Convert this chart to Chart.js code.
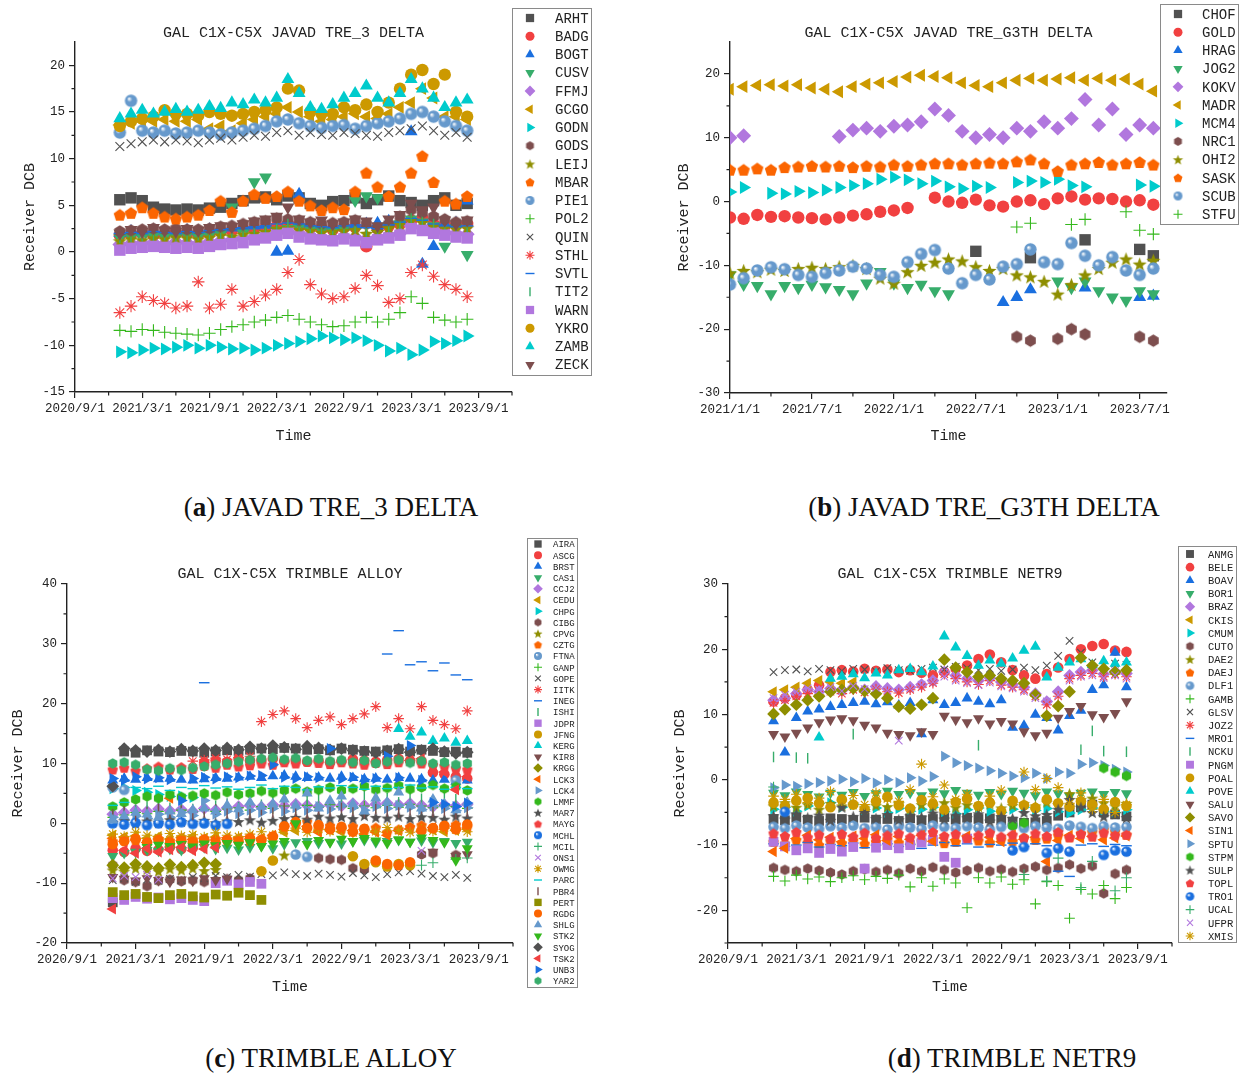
<!DOCTYPE html>
<html>
<head>
<meta charset="utf-8">
<script src="https://cdn.jsdelivr.net/npm/chart.js@4.4.1/dist/chart.umd.min.js"></script>
<style>
body { margin: 0; background: #fff; width: 1245px; height: 1077px; position: relative; overflow: hidden; }
canvas { position: absolute; }
.cap { position: absolute; transform: translate(-50%, -50%); white-space: nowrap;
       font-family: "Liberation Serif", serif; font-size: 27px; color: #111; }
</style>
</head>
<body>
<canvas id="cA" width="620" height="460" style="left:0;top:0"></canvas>
<canvas id="cB" width="625" height="460" style="left:620px;top:0"></canvas>
<canvas id="cC" width="600" height="480" style="left:0;top:530px"></canvas>
<canvas id="cD" width="625" height="480" style="left:620px;top:530px"></canvas>
<div class="cap" style="left:331px;top:507px">(<b>a</b>) JAVAD TRE_3 DELTA</div>
<div class="cap" style="left:984px;top:507px">(<b>b</b>) JAVAD TRE_G3TH DELTA</div>
<div class="cap" style="left:331px;top:1058px">(<b>c</b>) TRIMBLE ALLOY</div>
<div class="cap" style="left:1012px;top:1058px">(<b>d</b>) TRIMBLE NETR9</div>
<script>
const _ = null;
// months since 2020/9/1, one sample per month
const months = [4,5,6,7,8,9,10,11,12,13,14,15,16,17,18,19,20,21,22,23,24,25,26,27,28,29,30,31,32,33,34,35];

const xTicks = [0,6,12,18,24,30,36];
const xLabels = ['2020/9/1','2021/3/1','2021/9/1','2022/3/1','2022/9/1','2023/3/1','2023/9/1'];
const xMinor = [3,9,15,21,27,33,39];
const xTicksB = [4,10,16,22,28,34];
const xLabelsB = ['2021/1/1','2021/7/1','2022/1/1','2022/7/1','2023/1/1','2023/7/1'];
const xMinorB = [7,13,19,25,31];

const yTicksA = [-15,-10,-5,0,5,10,15,20];
const yMinorA = [-12.5,-7.5,-2.5,2.5,7.5,12.5,17.5];
const yTicksB = [-30,-20,-10,0,10,20];
const yMinorB = [-25,-15,-5,5,15];
const yTicksC = [-20,-10,0,10,20,30,40];
const yMinorC = [-15,-5,5,15,25,35];
const yTicksD = [-20,-10,0,10,20,30];
const yMinorD = [-25,-15,-5,5,15,25];

// ---- (a) JAVAD TRE_3 DELTA ----
const namesA = ['ARHT','BADG','BOGT','CUSV','FFMJ','GCGO','GODN','GODS','LEIJ','MBAR','PIE1','POL2','QUIN','STHL','SVTL','TIT2','WARN','YKRO','ZAMB','ZECK'];
const a_ARHT = [5.6,5.8,5.5,4.8,4.6,4.5,4.6,4.5,4.7,4.8,5.2,5.5,5.8,5.9,5.6,6.0,5.8,5.2,5.0,5.4,5.5,5.8,5.2,5.6,6.0,5.5,5.3,5.0,5.5,5.8,5.0,5.2];
const a_BADG = [1.8,1.9,2.0,1.8,1.9,2.1,2.0,1.9,2.0,2.2,2.3,2.4,2.5,2.6,2.8,3.0,2.8,2.6,2.5,2.4,2.6,2.7,0.6,2.5,2.8,3.0,3.4,3.6,3.0,2.8,2.9,3.0];
const a_BOGT = [2.0,2.2,2.1,2.3,2.2,2.1,2.3,2.2,2.4,2.5,2.6,2.7,2.8,2.9,0.0,0.1,6.2,3.0,2.9,2.8,2.7,2.9,3.0,3.1,3.3,3.4,12.9,-1.3,0.6,3.0,3.1,5.5];
const a_CUSV = [1.5,1.6,1.5,1.7,1.6,1.5,1.8,1.6,1.7,1.9,4.8,2.0,7.5,8.0,2.3,2.5,2.6,2.4,2.3,2.2,2.5,5.5,6.0,5.8,2.8,3.0,3.5,3.2,2.8,0.6,2.6,-0.3];
const a_FFMJ = [0.8,0.9,1.0,1.0,0.9,1.1,1.0,0.9,1.1,1.2,1.3,1.5,1.6,1.8,2.0,2.2,2.0,1.8,1.6,1.5,1.7,1.6,1.4,1.6,1.8,2.0,2.8,2.6,2.3,2.1,2.0,1.9];
const a_GCGO = [13.6,13.8,14.0,14.0,14.2,14.0,14.0,14.2,13.2,13.5,13.0,13.8,14.2,14.5,14.8,15.5,15.0,14.5,14.0,14.2,14.5,14.8,14.5,14.3,14.8,15.5,16.0,17.5,16.5,14.5,14.5,14.2];
const a_GODN = [-10.7,-10.8,-10.5,-10.3,-10.4,-10.2,-10.0,-10.3,-10.0,-10.2,-10.4,-10.3,-10.5,-10.3,-10.0,-9.8,-9.6,-9.3,-9.0,-9.2,-9.4,-9.2,-9.5,-10.0,-10.6,-10.3,-11.0,-10.5,-9.6,-9.8,-9.5,-9.0];
const a_GODS = [2.2,2.3,2.4,2.5,2.4,2.5,2.4,2.4,2.5,2.7,2.8,3.0,3.2,3.3,3.6,3.5,3.4,3.2,3.0,3.1,3.2,3.4,3.0,2.5,3.0,3.8,4.5,4.2,3.8,3.5,3.2,3.3];
const a_LEIJ = [1.2,1.4,1.3,1.5,1.4,1.6,1.5,1.4,1.6,1.8,1.7,1.9,2.0,2.2,2.5,2.6,2.4,2.3,2.1,2.2,2.3,2.4,2.0,2.2,2.6,3.0,3.4,3.2,2.8,2.6,2.5,2.6];
const a_MBAR = [4.0,4.2,4.8,4.2,3.8,3.6,3.8,4.0,4.5,5.5,4.3,5.5,6.2,5.8,6.0,6.5,5.5,5.0,4.5,4.8,4.6,6.5,8.5,7.0,6.0,7.0,8.5,10.3,7.5,5.5,5.2,6.0];
const a_PIE1 = [12.8,16.2,13.0,12.8,13.0,12.7,12.8,13.0,12.8,12.6,12.8,13.0,13.2,13.5,14.0,14.2,13.8,13.5,13.3,13.5,13.6,13.2,13.5,13.8,14.0,14.3,14.8,15.0,14.5,14.0,13.5,13.0];
const a_POL2 = [-8.4,-8.5,-8.3,-8.4,-8.6,-8.7,-8.8,-8.9,-8.7,-8.3,-8.0,-7.8,-7.5,-7.3,-7.0,-6.8,-7.2,-7.5,-7.8,-8.0,-7.9,-7.5,-7.0,-7.5,-7.2,-6.5,-4.8,-5.5,-7.0,-7.3,-7.5,-7.2];
const a_QUIN = [11.3,11.6,11.8,12.0,11.8,12.0,11.9,11.7,12.0,12.2,12.0,12.3,12.5,12.4,12.8,13.0,12.5,12.8,12.6,12.5,12.8,12.7,12.5,12.4,12.8,13.0,13.2,13.5,13.0,12.5,12.8,12.3];
const a_STHL = [-6.5,-5.8,-4.8,-5.2,-5.5,-6.0,-5.8,-3.2,-6.0,-5.6,-4.0,-5.8,-5.3,-4.6,-4.0,-2.2,-0.8,-3.5,-4.5,-5.0,-4.8,-3.9,-2.5,-3.6,-5.4,-5.0,-2.2,-1.4,-2.6,-3.5,-4.0,-4.8];
const a_SVTL = [2.0,2.1,2.0,2.2,2.1,2.0,2.2,2.1,2.3,2.4,2.5,2.6,2.7,2.8,3.0,3.1,3.0,2.8,2.7,2.6,2.8,2.9,2.6,2.5,2.9,3.2,3.6,3.4,3.0,2.8,2.7,2.8];
const a_TIT2 = [1.6,1.7,1.8,1.7,1.9,1.8,1.7,1.9,2.0,2.1,2.2,2.3,2.5,2.6,2.8,2.9,2.7,2.6,2.4,2.5,2.6,2.7,2.3,2.4,2.7,3.1,3.5,3.3,2.9,2.7,2.6,2.7];
const a_WARN = [0.2,0.4,0.5,0.6,0.5,0.4,0.5,0.4,0.6,0.8,0.9,1.0,1.3,1.5,1.8,2.0,1.6,1.4,1.3,1.2,1.4,1.2,1.0,1.3,1.5,1.8,2.5,2.3,2.0,1.8,1.6,1.5];
const a_YKRO = [13.5,14.0,14.3,14.5,15.2,14.8,14.8,14.6,15.0,14.8,14.6,14.8,15.0,15.2,15.5,17.5,17.3,15.0,14.8,14.8,15.5,15.2,15.8,15.0,16.0,17.5,19.0,19.5,18.0,19.0,15.0,14.5];
const a_ZAMB = [14.3,14.8,15.2,14.8,15.0,15.3,15.0,15.2,15.6,15.4,16.0,15.8,16.3,16.0,16.5,18.5,17.0,15.5,15.3,15.8,16.5,17.0,17.8,16.5,16.0,17.0,18.5,17.5,16.5,15.5,16.0,16.3];
const a_ZECK = [2.0,2.4,2.2,2.6,2.3,2.2,2.5,2.3,2.6,2.8,2.7,3.0,3.3,3.5,3.8,4.8,3.5,3.2,3.4,3.0,3.2,3.5,3.3,2.8,3.5,4.0,5.2,4.5,4.8,3.4,3.0,3.4];

// ---- (b) JAVAD TRE_G3TH DELTA ----
const namesB = ['CHOF','GOLD','HRAG','JOG2','KOKV','MADR','MCM4','NRC1','OHI2','SASK','SCUB','STFU'];
const b_CHOF = [_,_,_,_,_,_,_,_,_,_,_,_,_,_,_,_,_,_,-7.8,_,_,_,-8.8,_,_,_,-6.0,_,_,_,-7.5,-8.5];
const b_GOLD = [-2.5,-2.7,-2.1,-2.4,-2.3,-2.5,-2.6,-2.8,-2.5,-2.2,-2.0,-1.6,-1.4,-1.0,_,0.6,0.0,-0.2,0.3,-0.6,-0.8,0.0,0.2,-0.4,0.5,0.8,0.3,0.5,0.4,0.0,0.2,-0.5];
const b_HRAG = [_,_,_,_,_,_,_,_,_,_,_,_,_,_,_,_,_,_,_,_,-15.8,-15.0,-13.8,_,_,_,-13.5,_,_,_,-15.0,-14.8];
const b_JOG2 = [-11.5,-13.0,-13.2,-14.5,-13.2,-13.5,-13.0,-13.4,-13.8,-14.5,-12.8,-11.0,-12.8,-13.5,-13.0,-14.0,-14.5,_,_,_,_,_,_,_,-12.5,-13.5,-12.5,-14.0,-15.0,-15.5,-14.0,-14.5];
const b_KOKV = [10.0,10.3,_,_,_,_,_,_,10.2,11.2,11.5,11.0,11.8,12.0,12.5,14.5,13.5,11.0,10.0,10.5,10.0,11.5,11.0,12.5,11.5,13.0,16.0,12.0,14.5,10.5,12.0,11.5];
const b_MADR = [17.6,18.0,18.2,18.3,18.1,18.3,17.8,17.6,17.2,18.0,18.4,18.6,18.8,19.5,19.8,19.6,19.4,18.6,18.2,18.0,18.6,19.0,19.3,19.0,19.2,19.4,19.0,19.3,19.0,19.2,18.4,17.3];
const b_MCM4 = [1.5,2.2,_,1.3,1.2,1.6,1.4,1.8,2.2,2.5,2.8,3.5,3.8,3.4,2.8,3.2,2.3,2.0,2.4,2.2,_,3.0,3.2,3.0,3.5,2.5,2.3,_,_,_,2.6,2.4];
const b_NRC1 = [_,_,_,_,_,_,_,_,_,_,_,_,_,_,_,_,_,_,_,_,_,-21.2,-21.8,_,-21.5,-20.0,-20.8,_,_,_,-21.2,-21.8];
const b_OHI2 = [-11.2,-10.8,-11.0,-10.6,-10.8,-10.5,-10.3,-10.5,-10.2,-10.0,-10.5,-12.0,-12.8,-11.0,-10.0,-9.5,-9.0,-9.3,-10.2,-10.8,-10.5,-11.5,-11.8,-12.5,-14.5,-13.0,-11.5,-10.5,-9.5,-9.0,-9.8,-9.2];
const b_SASK = [5.0,5.0,5.2,5.0,5.4,5.5,5.6,5.5,5.6,5.4,5.6,5.5,5.8,5.6,5.8,6.0,6.0,5.8,6.0,6.1,6.0,6.3,6.6,6.0,4.8,5.8,6.0,6.2,5.8,6.0,6.2,5.8];
const b_SCUB = [-13.0,-12.0,-10.8,-10.3,-10.6,-11.5,-11.8,-11.2,-10.8,-10.2,-10.5,-11.5,-11.8,-9.5,-8.2,-7.6,-10.5,-12.8,-11.5,-12.2,-10.2,-9.8,-7.5,-9.5,-9.8,-6.5,-8.5,-10.0,-8.7,-10.8,-11.5,-10.5];
const b_STFU = [_,_,_,_,_,_,_,_,_,_,_,_,_,_,_,_,_,_,_,_,_,-4.0,-3.4,_,_,-3.6,-2.8,_,_,-1.6,-4.5,-5.1];

// ---- (c) TRIMBLE ALLOY ----
const namesC = ['AIRA','ASCG','BRST','CAS1','CCJ2','CEDU','CHPG','CIBG','CPVG','CZTG','FTNA','GANP','GOPE','IITK','INEG','ISHI','JDPR','JFNG','KERG','KIR8','KRGG','LCK3','LCK4','LMMF','MAR7','MAYG','MCHL','MCIL','ONS1','OWMG','PARC','PBR4','PERT','RGDG','SHLG','STK2','SYOG','TSK2','UNB3','YAR2'];
const c_AIRA = [-13.2,12.0,11.8,12.2,12.0,11.9,12.1,12.0,11.8,12.0,12.2,12.1,12.3,12.5,12.4,12.6,12.5,12.3,12.4,12.2,12.5,12.3,12.1,12.0,12.2,12.4,12.0,12.3,12.1,11.9,12.0,11.8];
const c_ASCG = [-4.5,-4.8,-4.2,-4.6,-4.4,-4.0,-4.3,-4.1,10.2,10.5,10.3,10.8,10.5,10.6,10.8,10.4,10.6,10.3,10.5,10.2,10.4,10.7,10.5,10.3,10.6,10.8,10.5,10.4,8.5,8.2,7.8,7.5];
const c_BRST = [7.2,7.5,7.3,7.6,7.4,7.5,7.3,7.2,7.4,7.6,7.5,7.7,7.8,7.6,7.9,8.0,7.8,7.6,7.7,7.5,7.8,7.6,7.4,7.5,7.3,7.6,7.5,7.4,7.2,7.3,7.0,7.2];
const c_CAS1 = [-5.5,-5.0,-4.8,-4.5,-4.6,-4.3,-4.5,-4.2,-4.0,-4.3,-4.1,-4.4,-4.0,-3.8,-4.2,-3.5,-3.2,-3.0,-3.3,-3.1,-3.4,-3.0,-2.8,-3.2,-3.0,-2.8,-3.1,-2.9,-3.2,-3.0,-3.3,-3.1];
const c_CCJ2 = [1.5,1.8,2.2,2.0,2.4,2.1,2.3,2.0,2.5,2.2,2.6,2.8,3.0,2.7,3.1,2.9,3.2,3.0,2.8,3.1,2.9,3.3,3.0,3.2,3.4,3.1,3.3,3.0,2.8,3.1,2.9,3.2];
const c_CEDU = [-2.0,-2.3,-2.1,-2.5,-2.2,-2.6,-2.4,-2.2,-2.5,-2.3,-2.7,-2.4,-2.6,-2.8,-2.5,-1.5,-1.2,-1.0,-1.3,-1.1,-1.4,-1.2,-1.0,-1.3,-1.5,-1.2,-1.0,-1.3,-1.1,-1.4,-1.2,-1.0];
const c_CHPG = [5.8,6.0,5.5,5.2,4.8,4.5,4.6,4.3,_,_,_,_,_,_,_,_,_,_,_,_,_,_,_,_,_,_,_,_,_,_,_,_];
const c_CIBG = [-7.0,-9.5,-9.8,-10.5,-9.6,-9.4,-9.7,-9.5,-9.8,-9.6,-9.3,-9.5,-9.2,_,_,_,_,_,-5.8,-6.0,-6.1,-7.5,-7.7,_,_,_,_,-5.2,-5.0,_,-5.3,_];
const c_CPVG = [-7.8,-8.0,-7.5,-7.7,-8.0,-7.6,-7.8,-7.5,-7.9,-7.7,_,_,_,_,_,-5.3,_,_,_,_,_,_,_,_,_,_,_,_,_,_,_,_];
const c_CZTG = [-3.0,-2.5,-2.8,-3.2,-2.6,-2.9,-2.4,-2.7,-3.0,-2.6,-2.8,-2.5,-2.9,-2.6,-2.3,-0.5,-0.2,0.3,-0.8,-0.4,-0.9,-0.5,-1.2,-0.7,-1.5,-1.0,-0.6,-0.3,-0.8,-0.5,-0.2,-0.6];
const c_FTNA = [6.0,5.6,_,_,_,_,_,_,_,_,_,_,_,_,_,_,-5.2,-5.6,_,_,_,_,_,_,_,_,_,_,_,_,7.2,_];
const c_GANP = [1.0,1.4,1.8,1.6,2.0,1.7,2.2,1.9,2.3,2.0,2.4,2.6,2.2,2.8,2.5,2.9,2.6,3.0,2.7,3.1,2.8,2.5,2.9,2.6,3.0,2.7,3.2,2.9,2.6,3.0,2.8,2.5];
const c_GOPE = [-9.5,-9.2,-9.8,-9.4,-9.6,-9.3,-9.5,-9.0,-9.2,-8.8,-9.0,-8.6,-8.9,-8.5,-8.7,-8.2,-8.5,-8.8,-8.4,-8.6,-8.9,-8.3,-8.7,-9.0,-8.5,-8.2,-8.0,-8.4,-8.8,-9.0,-8.6,-9.1];
const c_IITK = [_,_,_,_,_,_,_,10.4,10.6,10.9,10.7,11.0,11.2,17.0,18.2,18.8,17.5,16.0,17.2,17.8,16.5,17.5,18.3,19.5,16.0,17.5,15.8,19.5,17.2,16.5,15.8,18.8];
const c_INEG = [_,_,_,_,_,_,_,_,23.5,_,_,_,_,_,_,_,_,_,_,_,_,_,_,_,28.3,32.2,26.5,27.0,25.5,26.8,24.8,24.0];
const c_ISHI = [2.5,3.0,2.2,2.8,3.2,2.6,3.0,2.4,3.5,2.9,3.3,2.7,4.0,3.1,3.6,4.2,3.0,3.8,4.5,3.4,4.0,3.2,4.8,3.6,4.2,3.5,5.0,4.1,3.8,4.6,4.0,3.5];
const c_JDPR = [-12.5,-12.8,-12.3,-12.6,-12.4,-12.7,-12.5,-12.8,-13.0,-10.0,-9.6,-10.2,-9.8,-10.1,_,_,_,_,_,_,_,_,_,_,_,_,_,_,_,_,_,_];
const c_JFNG = [_,_,_,_,_,_,_,_,_,_,_,_,_,-8.0,-6.2,_,_,_,_,_,_,-5.5,-6.8,-6.5,-7.2,-6.8,-7.0,_,_,_,_,_];
const c_KERG = [_,_,_,_,_,_,_,_,_,_,_,_,_,_,_,_,_,_,_,_,_,_,_,_,_,15.8,14.5,15.2,13.8,14.2,13.5,13.8];
const c_KIR8 = [-9.0,-9.3,-9.6,-9.2,-9.5,-9.8,-9.4,-9.6,-9.2,-9.5,-9.3,_,_,_,_,_,_,_,_,_,_,_,_,_,_,_,_,_,-4.8,_,-5.5,-5.2];
const c_KRGG = [-7.0,-7.4,-6.8,-7.2,-7.5,-6.9,-7.3,-7.0,-6.6,-6.8,_,_,_,_,_,_,_,_,_,_,_,_,_,_,_,_,_,_,_,_,_,_];
const c_LCK3 = [-2.5,-3.0,-2.8,-3.2,-2.6,4.2,-2.9,-2.7,-3.1,-2.8,-2.4,-2.6,-2.2,-2.5,-2.0,-1.0,0.0,-0.5,-1.5,-1.0,-0.8,-1.2,-1.8,-1.5,-2.0,-1.2,-0.9,-1.4,-0.7,-1.0,-0.5,-0.8];
const c_LCK4 = [1.0,0.5,1.2,0.8,1.5,1.0,1.8,1.3,3.8,1.5,2.0,1.6,2.2,1.8,2.5,2.0,2.6,2.2,2.8,2.4,3.0,2.6,2.2,2.8,2.5,3.0,2.7,2.3,2.9,2.5,2.1,2.6];
const c_LMMF = [2.8,3.5,4.0,4.5,4.2,4.8,4.4,4.6,5.0,4.7,5.2,4.8,5.0,5.4,5.1,5.5,5.8,5.3,5.6,6.0,5.5,5.8,6.2,5.6,5.9,6.3,5.7,6.0,6.4,5.8,6.1,5.5];
const c_MAR7 = [0.2,0.5,0.0,0.4,0.1,0.6,0.3,0.2,0.5,0.1,0.4,0.3,0.6,0.2,0.5,0.8,1.0,0.7,1.2,0.9,1.1,0.8,1.3,1.0,0.9,1.2,0.8,1.1,1.0,0.7,1.2,0.9];
const c_MAYG = [9.0,9.3,8.8,9.2,9.5,9.0,9.4,9.1,9.6,9.3,9.8,9.5,9.7,10.0,9.8,10.2,10.0,10.3,10.1,9.9,10.2,10.0,9.8,10.1,9.9,10.2,10.4,10.0,9.8,9.6,9.2,9.0];
const c_MCHL = [0.0,-0.2,0.1,-0.3,0.0,-0.2,0.2,-0.1,0.0,-0.3,-0.1,_,_,_,_,_,_,_,_,_,_,_,_,_,_,_,_,_,_,_,_,_];
const c_MCIL = [_,_,_,_,_,_,_,_,_,_,_,_,_,_,_,_,_,_,_,_,_,_,_,_,_,_,_,-7.0,-6.6,_,-6.0,-5.8];
const c_ONS1 = [-9.2,-8.8,-9.0,-8.6,-9.4,_,_,_,_,_,_,_,_,_,_,_,_,_,_,_,_,_,_,_,_,_,_,-4.6,_,_,_,_];
const c_OWMG = [-1.8,-2.2,-1.5,-2.0,-2.4,-1.7,-2.1,-1.9,-2.3,-1.6,-2.0,-2.2,-1.8,-1.4,-2.0,-1.2,-0.8,-1.5,-1.0,-1.3,-0.9,-1.6,-1.1,-1.4,-0.7,-1.2,-1.5,-1.0,-1.3,-0.8,-1.1,-1.4];
const c_PARC = [3.0,3.5,6.0,5.8,6.2,5.5,6.0,5.8,6.3,5.9,6.1,5.7,6.0,6.4,5.8,6.2,6.0,5.6,6.1,5.9,6.3,6.0,5.7,6.2,5.8,6.0,6.4,5.9,6.1,5.7,6.0,5.8];
const c_PBR4 = [1.5,2.0,1.2,1.8,2.4,1.6,2.1,1.4,1.9,2.3,1.7,2.0,1.5,2.2,1.8,2.5,2.0,1.6,2.3,1.9,2.6,2.1,1.7,2.4,2.0,1.8,2.2,2.5,1.9,2.1,1.6,2.0];
const c_PERT = [-11.5,-12.0,-11.8,-12.3,-12.5,-12.0,-11.8,-12.2,-12.4,-11.9,-12.1,-11.6,-12.0,-12.8,_,_,_,_,_,_,_,_,_,_,_,_,_,_,_,_,_,_];
const c_RGDG = [-3.5,-3.0,-2.6,-3.2,-2.8,-3.4,-2.9,-3.1,-2.7,-3.3,-2.8,-3.0,-2.5,-2.8,-2.2,-0.5,0.2,-0.8,-0.3,-1.0,-0.6,-1.4,-0.9,-6.2,-6.8,-7.0,-6.5,-1.2,-0.8,-0.4,-1.0,-0.2];
const c_SHLG = [0.5,1.2,1.8,1.5,1.0,2.0,1.6,2.2,2.5,2.0,3.0,2.4,3.5,2.8,3.2,4.0,3.0,5.0,2.5,3.8,4.5,3.2,2.0,4.2,3.5,5.2,3.0,2.5,4.0,3.2,2.2,3.5];
const c_STK2 = [_,_,_,-4.0,-3.6,-3.8,-3.5,-3.9,-3.4,-3.7,-3.3,-3.6,-3.2,-3.8,-3.4,-3.0,0.0,-3.5,-2.8,-3.2,-2.6,-3.0,-2.5,-2.9,-3.3,-2.7,-3.1,-2.4,-2.8,-3.2,-6.2,-4.2];
const c_SYOG = [6.2,12.5,12.2,12.0,12.3,12.0,12.4,12.1,12.5,12.2,12.6,12.3,12.8,12.5,13.0,12.7,12.4,12.9,12.6,12.3,12.5,12.2,12.0,11.8,12.1,12.4,11.9,12.2,12.5,12.0,11.7,11.9];
const c_TSK2 = [-14.3,-4.5,-5.0,-4.2,-4.8,-4.4,-4.0,-4.6,-4.3,-4.1,_,_,_,_,_,_,_,_,_,_,_,_,_,_,_,_,10.5,10.8,_,8.6,5.6,7.8];
const c_UNB3 = [7.5,7.2,7.8,7.4,7.6,7.3,3.8,7.5,7.7,7.4,7.8,7.6,7.9,8.0,9.8,7.7,7.5,7.8,7.6,12.5,7.4,7.7,7.3,7.5,11.2,7.6,13.0,7.2,3.5,3.2,2.8,3.4];
const c_YAR2 = [10.0,10.2,9.8,9.0,8.8,9.2,8.9,9.3,9.5,9.8,10.0,10.3,10.6,10.8,11.0,10.7,10.9,10.5,10.8,10.4,10.6,10.2,10.5,10.0,10.3,10.6,10.1,10.4,10.0,10.2,9.8,10.0];

// ---- (d) TRIMBLE NETR9 ----
const namesD = ['ANMG','BELE','BOAV','BOR1','BRAZ','CKIS','CMUM','CUTO','DAE2','DAEJ','DLF1','GAMB','GLSV','JOZ2','MRO1','NCKU','PNGM','POAL','POVE','SALU','SAVO','SIN1','SPTU','STPM','SULP','TOPL','TRO1','UCAL','UFPR','XMIS'];
const d_ANMG = [-6.0,-6.2,-5.8,-6.1,-6.3,-5.9,-6.0,-6.2,-5.8,-6.1,-6.0,-6.3,-5.9,-6.2,-6.0,-5.7,-6.1,-5.8,-6.0,-5.9,-6.2,-6.4,-6.6,-6.5,-6.3,-5.5,-5.0,-4.2,-3.8,-5.0,-5.3,-5.6];
const d_BELE = [12.0,12.5,13.0,13.8,14.5,16.5,16.8,16.6,17.0,16.7,16.9,16.5,16.8,16.4,16.0,16.5,17.0,17.5,18.5,19.2,18.0,16.8,16.0,15.5,16.2,17.2,18.5,20.0,20.5,20.8,19.8,19.6];
const d_BOAV = [9.0,4.2,9.5,10.5,10.8,11.2,11.5,11.8,12.0,11.6,11.9,11.4,11.8,7.0,12.2,11.5,11.8,12.5,12.0,11.6,12.2,8.0,8.3,10.0,9.5,7.6,9.8,10.6,13.8,14.5,19.5,14.2];
const d_BOR1 = [-2.0,-2.4,-1.8,-2.2,-2.6,-2.0,-2.3,-1.9,-2.5,-2.1,-1.7,-2.2,-2.0,-2.4,-1.8,-2.1,-1.6,-2.0,-2.3,-1.9,-2.2,-1.7,-2.0,-2.4,-1.8,-2.1,-2.5,-2.0,-1.8,-2.2,-1.9,-2.1];
const d_BRAZ = [12.2,12.5,13.2,13.8,13.5,14.0,13.7,14.2,13.8,14.3,14.0,13.8,14.2,14.6,15.2,16.5,16.0,15.5,15.2,15.6,15.0,14.6,14.2,13.2,12.0,13.5,16.0,16.5,16.8,16.2,16.6,16.3];
const d_CKIS = [13.5,13.8,14.2,14.8,15.2,15.0,14.8,15.0,_,_,_,_,_,_,_,_,_,_,_,_,_,_,_,_,_,_,_,_,_,_,_,_];
const d_CMUM = [-4.5,-4.2,-4.8,-4.0,-3.6,-3.5,-4.2,-3.8,-4.6,-4.3,-5.0,-4.4,-4.8,-4.5,-4.2,-4.9,-5.2,-4.6,-4.3,-4.8,-5.0,-4.5,-4.2,-4.7,-4.4,-4.9,-5.1,-4.6,-4.3,-4.8,-5.0,-4.6];
const d_CUTO = [-13.5,-13.8,-14.0,-13.6,-13.9,-14.2,-14.5,-14.0,-13.7,-14.1,-13.8,-14.3,-13.6,-14.0,-13.4,-13.8,-14.2,-13.9,-13.5,-14.0,-13.7,-14.1,-13.6,-13.3,-13.8,-13.5,-13.0,-13.6,-13.2,-17.4,-14.4,-13.8];
const d_DAE2 = [-4.0,-3.5,-4.2,-3.8,-4.5,-3.6,-4.0,-3.7,-4.3,-3.9,-4.1,-3.6,-4.4,-3.8,-4.0,-3.5,-4.2,-3.8,-4.1,-3.7,-4.3,-3.9,-3.6,-4.0,-3.4,-3.8,-2.1,-3.0,-2.8,-3.5,-4.0,-3.6];
const d_DAEJ = [-9.5,-9.8,-9.2,-9.6,-10.0,-9.4,-9.7,-9.3,-9.8,-9.5,-9.1,-9.6,-9.9,-9.4,-9.2,-9.7,-9.5,-9.0,-9.3,-9.6,-9.1,-9.4,-8.8,-9.2,-9.0,-8.5,-8.8,-8.2,-8.0,-7.6,-7.9,-8.4];
const d_DLF1 = [-7.2,-7.4,-7.0,-7.3,-7.5,-7.1,-7.3,-7.0,-7.4,-7.2,-7.6,-7.1,-7.3,-7.5,-7.0,-7.2,-7.4,-7.1,-7.3,-7.6,-7.2,-7.0,-7.4,-7.1,-7.3,-7.5,-7.0,-7.2,-7.4,-7.1,-7.3,-7.2];
const d_GAMB = [-14.8,-15.5,-14.6,-15.2,-14.9,-15.6,-15.0,-14.7,-15.3,-14.8,-15.1,-14.6,-16.4,-15.0,-16.3,-15.2,-15.8,-19.6,-15.0,-15.8,-14.9,-16.0,-15.3,-19.0,-15.6,-16.2,-21.2,-16.8,-17.5,-16.2,-18.2,-16.5];
const d_GLSV = [16.5,16.8,16.9,16.6,17.0,16.8,16.7,17.0,16.9,16.6,17.1,16.8,16.7,17.0,17.2,16.9,17.3,17.1,16.8,17.0,16.7,16.9,17.2,16.8,17.5,19.0,21.3,19.5,18.0,17.5,17.8,17.6];
const d_JOZ2 = [11.8,12.2,12.8,13.2,13.0,13.5,13.2,13.8,13.4,13.9,13.5,13.3,13.8,14.2,14.8,16.2,15.5,15.0,14.6,15.2,14.5,14.2,13.8,12.8,11.5,12.8,15.5,16.0,16.3,15.8,16.2,15.8];
const d_MRO1 = [-9.8,-10.2,-10.0,-9.6,-10.3,-9.9,-10.1,-9.7,-10.4,-10.0,-9.8,-10.2,-9.9,-10.5,-10.0,-9.6,-10.1,-9.8,-10.3,-9.9,-10.0,-9.7,-10.2,-9.8,-10.1,-14.0,-14.8,-10.0,-9.8,-10.2,-9.9,-10.1];
const d_NCKU = [3.5,_,3.4,3.3,_,_,_,7.0,_,_,_,_,_,_,_,_,_,_,5.3,_,_,_,_,_,_,_,_,4.6,7.5,4.4,_,4.3];
const d_PNGM = [-9.5,-10.2,-10.8,-10.5,-11.2,-10.6,-11.0,-10.3,-13.6,-10.4,-10.0,-10.5,-10.0,-9.6,-9.2,-11.8,-12.7,-9.0,_,_,_,_,_,_,_,_,_,_,_,_,_,_];
const d_POAL = [-3.5,-4.0,-3.2,-2.8,-3.6,-4.2,-3.0,-3.8,-4.5,-3.3,-2.6,-3.9,-4.4,-3.1,-3.7,-4.6,-3.4,-2.9,-4.0,-3.5,-4.8,-3.2,-3.9,-4.3,-3.0,-3.6,-4.1,-3.3,-3.8,-4.5,-3.4,-4.0];
const d_POVE = [_,_,_,_,6.5,15.5,15.8,16.2,15.6,16.3,16.0,16.8,17.0,16.5,17.4,22.0,20.3,19.0,17.5,18.3,17.8,18.6,19.8,20.4,15.7,17.2,18.0,18.5,17.6,18.2,17.8,18.0];
const d_SALU = [7.0,6.6,7.2,8.0,8.8,9.2,9.4,9.1,8.4,8.0,7.2,7.0,6.8,7.4,7.0,9.8,9.2,8.8,9.4,8.6,9.0,8.6,7.4,6.8,7.2,9.5,10.5,11.3,10.0,9.6,10.2,12.0];
const d_SAVO = [10.1,10.8,11.5,12.2,12.8,13.5,13.8,14.0,13.6,13.2,12.5,11.2,10.9,11.5,12.5,18.4,17.2,16.5,15.8,16.0,15.5,15.2,14.8,13.0,9.8,11.3,13.5,18.7,17.5,17.0,16.5,16.8];
const d_SIN1 = [-11.0,-10.5,-9.0,-8.5,-9.2,-8.8,-9.5,-8.6,-9.0,-8.4,-9.3,-8.7,-9.1,-8.5,-9.4,-8.9,-9.2,-8.6,-9.0,-8.8,-9.5,-8.4,-9.1,-8.8,-12.5,-9.3,-8.5,-9.0,-8.7,-9.2,-8.9,-8.6];
const d_SPTU = [-1.2,-0.8,-1.0,-0.6,-0.4,-0.2,0.1,-0.3,0.2,-0.5,0.0,-0.4,0.3,-0.2,0.5,3.6,2.6,2.2,1.8,1.4,1.0,0.6,0.3,1.0,0.2,1.2,1.0,2.4,2.6,2.2,1.6,1.2];
const d_STPM = [_,_,_,_,_,_,_,_,_,_,_,_,_,_,_,_,_,_,_,_,_,-7.0,-6.6,_,_,_,_,_,_,1.8,1.2,0.6];
const d_SULP = [-5.5,-6.0,-5.2,-5.8,-5.4,-6.2,-4.2,-5.6,-5.0,-5.9,-5.3,-6.1,-5.5,-5.7,-5.1,-6.0,-5.4,-5.8,-5.2,-6.3,-5.6,-5.9,-5.0,-5.5,-5.3,-4.5,-3.0,-4.2,-5.0,-5.6,-5.2,-5.8];
const d_TOPL = [-8.2,-8.6,-8.0,-8.8,-8.4,-9.0,-8.3,-8.7,-8.1,-8.9,-8.5,-8.2,-8.8,-8.4,-8.0,-8.6,-8.3,-8.9,-8.5,-8.1,-8.7,-8.4,-8.9,-8.2,-8.6,-8.0,-8.8,-8.3,-8.7,-8.1,-8.5,-8.4];
const d_TRO1 = [_,-4.9,_,_,_,_,_,_,_,_,_,_,_,_,_,_,_,_,_,_,_,-10.8,-10.3,_,-11.2,-10.5,-11.0,_,_,-11.5,-10.8,-11.0];
const d_UCAL = [-1.1,_,_,_,_,_,_,_,_,_,_,_,_,_,_,_,_,_,_,_,_,_,-14.5,_,-15.5,-12.0,_,-16.5,-12.5,_,-17.0,-15.0];
const d_UFPR = [12.5,13.0,13.5,14.0,13.8,14.2,13.6,14.4,13.9,14.1,13.7,6.0,14.0,14.6,15.0,15.8,15.2,14.8,14.5,14.9,14.3,14.0,13.5,12.5,12.0,13.0,15.2,15.8,16.0,15.6,16.0,15.5];
const d_XMIS = [-2.5,-3.0,-2.2,-3.5,-2.8,-1.8,-3.2,-2.4,-3.8,-2.0,-2.9,-3.3,-1.5,2.4,-2.6,-0.8,-3.0,-2.2,-4.0,-2.5,-1.6,-3.4,1.2,-1.5,0.2,-1.2,-3.6,-2.0,-4.5,-3.0,-5.0,-3.8];

const seriesA = [a_ARHT,a_BADG,a_BOGT,a_CUSV,a_FFMJ,a_GCGO,a_GODN,a_GODS,a_LEIJ,a_MBAR,a_PIE1,a_POL2,a_QUIN,a_STHL,a_SVTL,a_TIT2,a_WARN,a_YKRO,a_ZAMB,a_ZECK];
const seriesB = [b_CHOF,b_GOLD,b_HRAG,b_JOG2,b_KOKV,b_MADR,b_MCM4,b_NRC1,b_OHI2,b_SASK,b_SCUB,b_STFU];
const seriesC = [c_AIRA,c_ASCG,c_BRST,c_CAS1,c_CCJ2,c_CEDU,c_CHPG,c_CIBG,c_CPVG,c_CZTG,c_FTNA,c_GANP,c_GOPE,c_IITK,c_INEG,c_ISHI,c_JDPR,c_JFNG,c_KERG,c_KIR8,c_KRGG,c_LCK3,c_LCK4,c_LMMF,c_MAR7,c_MAYG,c_MCHL,c_MCIL,c_ONS1,c_OWMG,c_PARC,c_PBR4,c_PERT,c_RGDG,c_SHLG,c_STK2,c_SYOG,c_TSK2,c_UNB3,c_YAR2];
const seriesD = [d_ANMG,d_BELE,d_BOAV,d_BOR1,d_BRAZ,d_CKIS,d_CMUM,d_CUTO,d_DAE2,d_DAEJ,d_DLF1,d_GAMB,d_GLSV,d_JOZ2,d_MRO1,d_NCKU,d_PNGM,d_POAL,d_POVE,d_SALU,d_SAVO,d_SIN1,d_SPTU,d_STPM,d_SULP,d_TOPL,d_TRO1,d_UCAL,d_UFPR,d_XMIS];

// Origin-like default colour and symbol cycles
const palette = ['#515151','#F14040','#1A6FDF','#37AD6B','#B177DE','#CC9900','#00CBCC','#7D4E4E','#8E8E00','#FB6501','#6699CC','#34B81C'];
const shapes = ['square','circle','tup','tdown','diamond','tleft','tright','hex','star5','pent','sphere','plus','cross','aster','dash','bar'];

const imgCache = {};
function shapeImage(shape, color, r) {
  const key = shape + color + r;
  if (imgCache[key]) return imgCache[key];
  const s = Math.ceil(r * 2 + 2), c = document.createElement('canvas');
  c.width = c.height = s;
  const g = c.getContext('2d'), m = s / 2;
  g.beginPath();
  if (shape === 'hex') {
    for (let k = 0; k < 6; k++) { const a = -Math.PI / 2 + k * Math.PI / 3; g.lineTo(m + r * Math.cos(a), m + r * Math.sin(a)); }
  } else if (shape === 'pent') {
    for (let k = 0; k < 5; k++) { const a = -Math.PI / 2 + k * 2 * Math.PI / 5; g.lineTo(m + r * Math.cos(a), m + r * Math.sin(a) + r * 0.1); }
  } else if (shape === 'star5') {
    for (let k = 0; k < 10; k++) { const a = -Math.PI / 2 + k * Math.PI / 5, rr = k % 2 ? r * 0.42 : r; g.lineTo(m + rr * Math.cos(a), m + rr * Math.sin(a) + r * 0.1); }
  } else {
    g.arc(m, m, r, 0, Math.PI * 2);
  }
  g.closePath();
  if (shape === 'sphere') {
    const gr = g.createRadialGradient(m - r * 0.35, m - r * 0.35, r * 0.05, m, m, r);
    gr.addColorStop(0, '#ffffff');
    gr.addColorStop(0.4, color);
    gr.addColorStop(1, color);
    g.fillStyle = gr;
  } else {
    g.fillStyle = color;
  }
  g.fill();
  imgCache[key] = c;
  return c;
}

function markerStyle(i, r) {
  const col = palette[i % 12], sh = shapes[i % 16];
  const m = { pointStyle: 'circle', radius: r, rotation: 0, bg: col, bc: col, bw: 0 };
  if (sh === 'square') { m.pointStyle = 'rect'; m.radius = r * 1.3; }
  else if (sh === 'tup') { m.pointStyle = 'triangle'; m.radius = r * 1.2; }
  else if (sh === 'tdown') { m.pointStyle = 'triangle'; m.radius = r * 1.2; m.rotation = 180; }
  else if (sh === 'tleft') { m.pointStyle = 'triangle'; m.radius = r * 1.2; m.rotation = 270; }
  else if (sh === 'tright') { m.pointStyle = 'triangle'; m.radius = r * 1.2; m.rotation = 90; }
  else if (sh === 'diamond') { m.pointStyle = 'rectRot'; m.radius = r * 1.2; }
  else if (sh === 'hex') { m.pointStyle = shapeImage('hex', col, r); }
  else if (sh === 'pent') { m.pointStyle = shapeImage('pent', col, r * 1.05); }
  else if (sh === 'star5') { m.pointStyle = shapeImage('star5', col, r * 1.2); }
  else if (sh === 'sphere') { m.pointStyle = shapeImage('sphere', col, r); }
  else if (sh === 'plus') { m.pointStyle = 'cross'; m.bw = 1.1; }
  else if (sh === 'cross') { m.pointStyle = 'crossRot'; m.bw = 1.1; }
  else if (sh === 'aster') { m.pointStyle = 'star'; m.bw = 1.1; }
  else if (sh === 'dash') { m.pointStyle = 'line'; m.bw = 1.4; }
  else if (sh === 'bar') { m.pointStyle = 'line'; m.rotation = 90; m.bw = 1.4; }
  return m;
}

function legendPlugin(L) {
  return {
    id: 'boxLegend',
    afterDraw(chart) {
      const ctx = chart.ctx;
      ctx.save();
      ctx.fillStyle = '#fff';
      ctx.fillRect(L.x, L.y, L.w, L.h);
      ctx.strokeStyle = '#8a8a8a';
      ctx.lineWidth = 1;
      ctx.strokeRect(L.x + 0.5, L.y + 0.5, L.w, L.h);
      chart.data.datasets.forEach((ds, i) => {
        const y = L.first + i * L.row, lm = ds.legendMarker;
        ctx.fillStyle = lm.bg; ctx.strokeStyle = lm.bc; ctx.lineWidth = lm.bw;
        Chart.helpers.drawPoint(ctx, { pointStyle: lm.pointStyle, radius: lm.radius, rotation: lm.rotation, borderWidth: lm.bw }, L.markX, y);
        ctx.fillStyle = '#222';
        ctx.font = L.font;
        ctx.textBaseline = 'middle';
        ctx.textAlign = 'left';
        ctx.fillText(ds.label, L.textX, y + 1);
      });
      ctx.restore();
    }
  };
}

function minorTickPlugin(xm, ym) {
  return {
    id: 'minorTicks',
    afterDraw(chart) {
      const { ctx, chartArea: a, scales } = chart;
      ctx.save();
      ctx.strokeStyle = '#222';
      ctx.lineWidth = 1.2;
      ctx.beginPath();
      xm.forEach(v => { const p = scales.x.getPixelForValue(v); ctx.moveTo(p, a.bottom); ctx.lineTo(p, a.bottom + 3.5); });
      ym.forEach(v => { const p = scales.y.getPixelForValue(v); ctx.moveTo(a.left, p); ctx.lineTo(a.left - 3.5, p); });
      ctx.stroke();
      ctx.restore();
    }
  };
}

Chart.defaults.font.family = '"Liberation Mono", "DejaVu Sans Mono", monospace';
Chart.defaults.color = '#222';

function makePanel(id, names, series, p) {
  const datasets = names.map((name, i) => {
    const st = markerStyle(i, p.r);
    const data = [];
    series[i].forEach((v, k) => { if (v !== null && k < months.length) data.push({ x: months[k], y: v }); });
    return {
      label: name, data, order: -i, showLine: false,
      pointStyle: st.pointStyle, pointRadius: st.radius, pointHoverRadius: st.radius,
      pointRotation: st.rotation, pointBackgroundColor: st.bg, pointBorderColor: st.bc,
      pointBorderWidth: st.bw, pointHoverBorderWidth: st.bw,
      legendMarker: markerStyle(i, p.lr)
    };
  });
  const axisGrid = { display: true, drawOnChartArea: false, drawTicks: true, tickLength: 6, color: '#222', lineWidth: 1.2 };
  const axisBorder = { display: true, color: '#222', width: 1.4 };
  new Chart(document.getElementById(id), {
    type: 'scatter',
    data: { datasets },
    options: {
      responsive: false, animation: false, events: [],
      layout: { padding: p.pad },
      plugins: {
        legend: { display: false },
        tooltip: { enabled: false },
        title: { display: true, text: p.title, fullSize: false, color: '#222',
                 font: { size: 15, weight: 'normal', lineHeight: 1.2 }, padding: { top: 0, bottom: p.titleGap } }
      },
      scales: {
        x: {
          type: 'linear', min: p.xMin, max: p.xMax,
          afterBuildTicks: s => { s.ticks = p.xTicks.map(v => ({ value: v })); },
          afterFit: s => { s.height = p.xH; },
          ticks: { callback: v => p.xLabels[p.xTicks.indexOf(v)], font: { size: 12.5 }, color: '#222', padding: 3, maxRotation: 0, autoSkip: false },
          grid: axisGrid, border: axisBorder,
          title: { display: true, text: 'Time', font: { size: 15 }, color: '#222', padding: 0 }
        },
        y: {
          type: 'linear', min: p.yMin, max: p.yMax,
          afterBuildTicks: s => { s.ticks = p.yTicks.map(v => ({ value: v })); },
          afterFit: s => { s.width = p.yW; },
          ticks: { font: { size: 12.5 }, color: '#222', padding: 4, autoSkip: false },
          grid: axisGrid, border: axisBorder,
          title: { display: true, text: 'Receiver DCB', font: { size: 15 }, color: '#222', padding: 0 }
        }
      }
    },
    plugins: [minorTickPlugin(p.xMinor, p.yMinor), legendPlugin(p.legend)]
  });
}

makePanel('cA', namesA, seriesA, {
  title: 'GAL C1X-C5X JAVAD TRE_3 DELTA', r: 6.2, lr: 4.5,
  pad: { left: 21, top: 24, right: 108, bottom: 15 }, titleGap: 0, yW: 54, xH: 53,
  xMin: 0, xMax: 39, xTicks, xLabels, xMinor,
  yMin: -15, yMax: 22.5, yTicks: yTicksA, yMinor: yMinorA,
  legend: { x: 512, y: 8, w: 79, h: 367, first: 18, row: 18.25, markX: 530, textX: 555, font: '14px "Liberation Mono", monospace' }
});
makePanel('cB', namesB, seriesB, {
  title: 'GAL C1X-C5X JAVAD TRE_G3TH DELTA', r: 6.2, lr: 4.5,
  pad: { left: 55, top: 24, right: 78, bottom: 15 }, titleGap: 0, yW: 55, xH: 52,
  xMin: 4, xMax: 36, xTicks: xTicksB, xLabels: xLabelsB, xMinor: xMinorB,
  yMin: -30, yMax: 25, yTicks: yTicksB, yMinor: yMinorB,
  legend: { x: 540, y: 4, w: 78, h: 220, first: 14, row: 18.2, markX: 558, textX: 582, font: '14px "Liberation Mono", monospace' }
});
makePanel('cC', namesC, seriesC, {
  title: 'GAL C1X-C5X TRIMBLE ALLOY', r: 5.3, lr: 4,
  pad: { left: 9, top: 35, right: 87, bottom: 14 }, titleGap: 1, yW: 58, xH: 53,
  xMin: 0, xMax: 39, xTicks, xLabels, xMinor,
  yMin: -20, yMax: 40, yTicks: yTicksC, yMinor: yMinorC,
  legend: { x: 527, y: 8, w: 50, h: 449, first: 14, row: 11.2, markX: 538, textX: 553, font: '9px "Liberation Mono", monospace' }
});
makePanel('cD', namesD, seriesD, {
  title: 'GAL C1X-C5X TRIMBLE NETR9', r: 5.3, lr: 4.3,
  pad: { left: 51, top: 35, right: 73, bottom: 14 }, titleGap: 1, yW: 57, xH: 53,
  xMin: 0, xMax: 39, xTicks, xLabels, xMinor,
  yMin: -25, yMax: 30, yTicks: yTicksD, yMinor: yMinorD,
  legend: { x: 558, y: 16, w: 58, h: 396, first: 24, row: 13.17, markX: 570, textX: 588, font: '10.5px "Liberation Mono", monospace' }
});
</script>
</body>
</html>
